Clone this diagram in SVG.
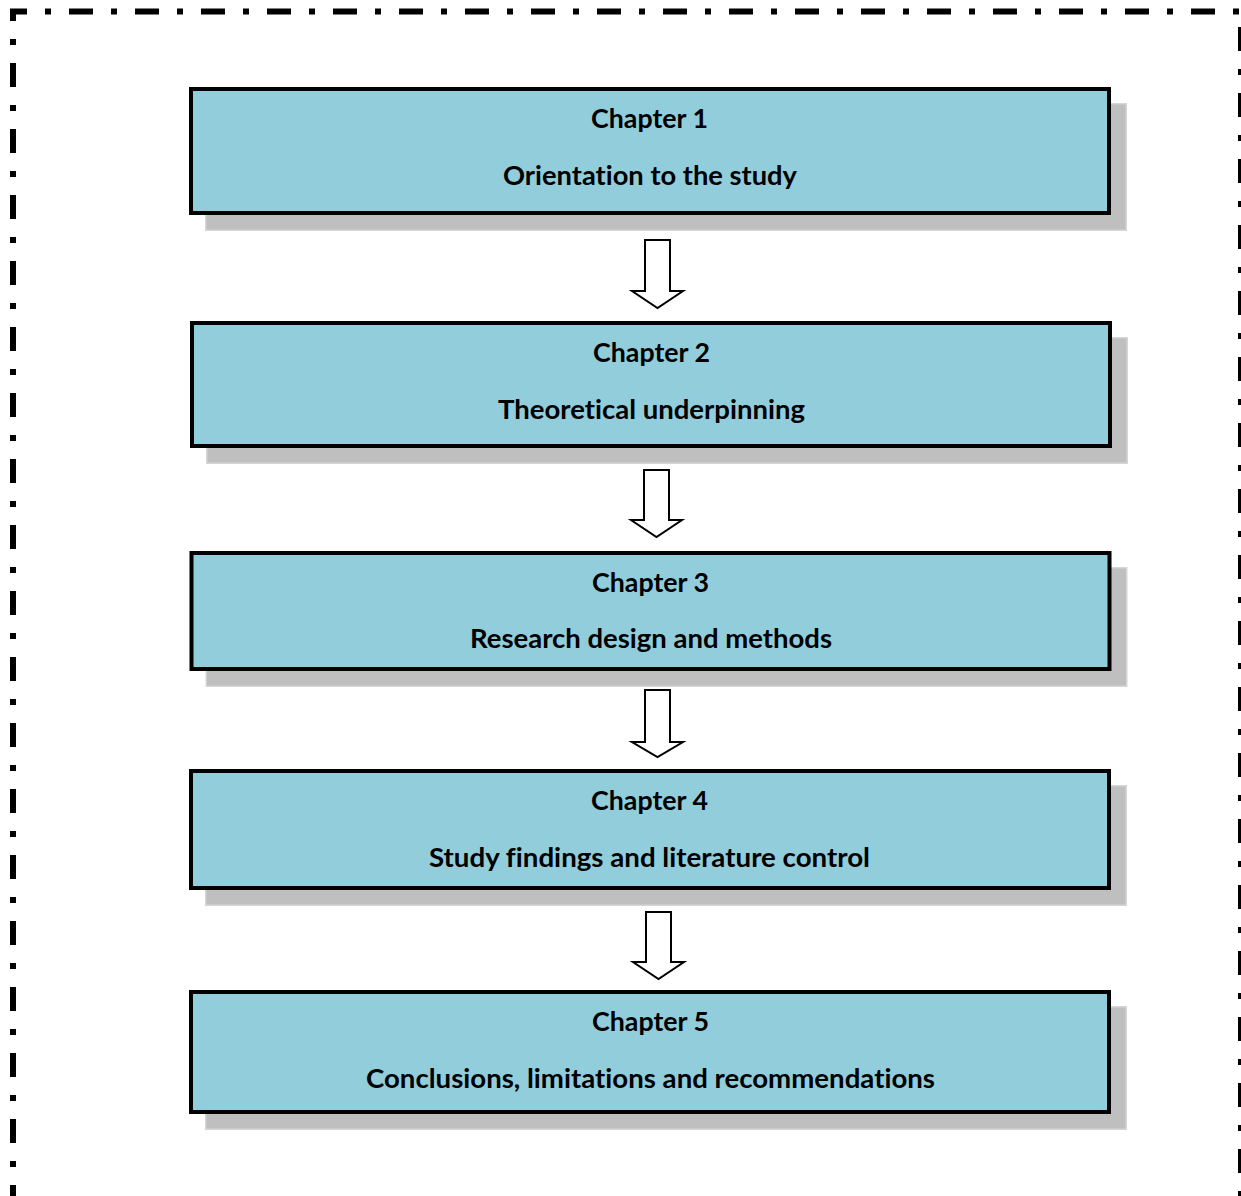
<svg xmlns="http://www.w3.org/2000/svg" width="1241" height="1196" viewBox="0 0 1241 1196">
  <style>
    .frame { fill: none; stroke: #000000; stroke-width: 6; stroke-dasharray: 24 18 6 18; }
    .shadow { fill: #BFBFBF; stroke: #D6D6D6; stroke-width: 1.5; }
    .box { fill: #92CDDC; stroke: #000000; stroke-width: 4; }
    .lbl { font-family: Lato, "Liberation Sans", "DejaVu Sans", sans-serif; font-weight: 700; font-size: 26px; fill: #000000; text-anchor: middle; font-variant-ligatures: none; }
    .arrow { fill: #FFFFFF; stroke: #000000; stroke-width: 2; stroke-linejoin: miter; }
  </style>
  <rect x="0" y="0" width="1241" height="1196" fill="#FFFFFF"/>
  <g id="frame">
    <path class="frame" d="M10,11.5 H1241" stroke-dashoffset="7"/>
    <path class="frame" d="M13,9 V1196" stroke-dashoffset="12"/>
    <path class="frame" d="M1241,9 V1196" stroke-dashoffset="48"/>
  </g>
  <g id="connectors">
    <polygon class="arrow" points="645,240 670,240 670,291 683,291 657.5,308 632,291 645,291"/>
    <polygon class="arrow" points="644,470 669,470 669,520 682,520 656.5,537 631,520 644,520"/>
    <polygon class="arrow" points="645,690 670,690 670,742 683,742 657.5,757 632,742 645,742"/>
    <polygon class="arrow" points="646,912 671,912 671,962 684,962 658.5,979 633,962 646,962"/>
  </g>
  <g id="chapter1">
    <rect class="shadow" x="205.75" y="103.75" width="920.5" height="126.5"/>
    <rect class="box" x="191" y="89" width="918" height="124"/>
    <text class="lbl" x="649.5" y="128" textLength="117" lengthAdjust="spacingAndGlyphs">Chapter 1</text>
    <text class="lbl" x="650" y="185" textLength="294" lengthAdjust="spacingAndGlyphs">Orientation to the study</text>
  </g>
  <g id="chapter2">
    <rect class="shadow" x="206.75" y="337.75" width="920.5" height="125.5"/>
    <rect class="box" x="192" y="323" width="918" height="123"/>
    <text class="lbl" x="651.5" y="362" textLength="117" lengthAdjust="spacingAndGlyphs">Chapter 2</text>
    <text class="lbl" x="651.5" y="419" textLength="307" lengthAdjust="spacingAndGlyphs">Theoretical underpinning</text>
  </g>
  <g id="chapter3">
    <rect class="shadow" x="206.25" y="567.75" width="920.5" height="118.5"/>
    <rect class="box" x="191.5" y="553" width="918" height="116"/>
    <text class="lbl" x="650.5" y="592" textLength="117" lengthAdjust="spacingAndGlyphs">Chapter 3</text>
    <text class="lbl" x="651" y="648" textLength="362" lengthAdjust="spacingAndGlyphs">Research design and methods</text>
  </g>
  <g id="chapter4">
    <rect class="shadow" x="205.75" y="785.75" width="920.5" height="119.5"/>
    <rect class="box" x="191" y="771" width="918" height="117"/>
    <text class="lbl" x="649.5" y="810" textLength="117" lengthAdjust="spacingAndGlyphs">Chapter 4</text>
    <text class="lbl" x="649.5" y="867" textLength="441" lengthAdjust="spacingAndGlyphs">Study findings and literature control</text>
  </g>
  <g id="chapter5">
    <rect class="shadow" x="205.75" y="1006.75" width="920.5" height="122.5"/>
    <rect class="box" x="191" y="992" width="918" height="120"/>
    <text class="lbl" x="650.5" y="1031" textLength="117" lengthAdjust="spacingAndGlyphs">Chapter 5</text>
    <text class="lbl" x="650.5" y="1088" textLength="569" lengthAdjust="spacingAndGlyphs">Conclusions, limitations and recommendations</text>
  </g>
</svg>
